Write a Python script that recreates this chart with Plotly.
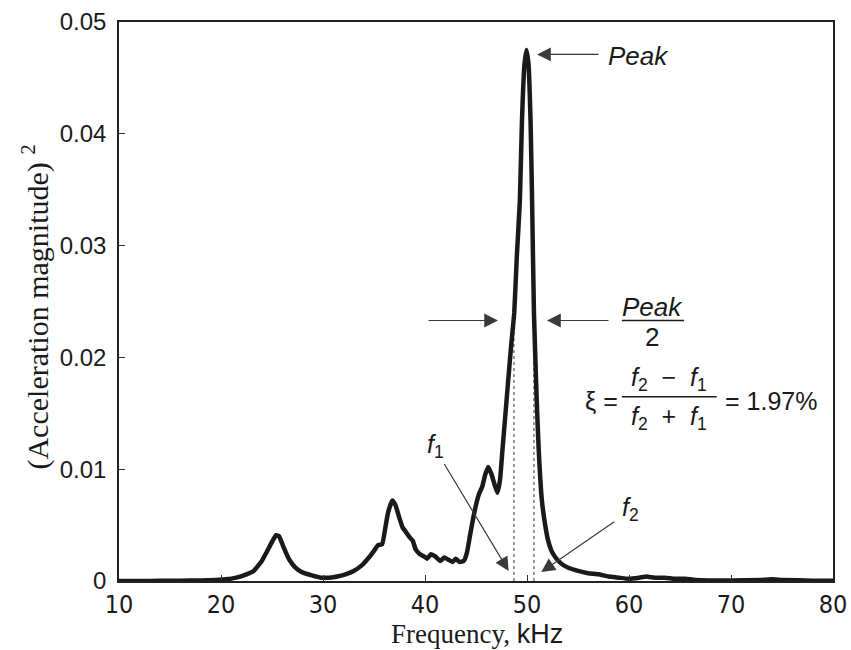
import plotly.graph_objects as go

# ---------------- data ----------------
freq_khz = [10.0, 12.0, 14.0, 16.0, 18.0, 19.5, 20.5, 21.5, 22.5, 23.2, 24.0, 24.6, 25.0, 25.4,
            25.7, 26.1, 26.7, 27.3, 27.9, 28.9, 29.8, 30.6, 31.4, 32.2, 33.0, 33.8, 34.5, 35.0,
            35.4, 35.8, 36.1, 36.4, 36.8, 37.1, 37.5, 37.8, 38.2, 38.5, 38.8, 39.1, 39.5, 39.9,
            40.2, 40.6, 41.0, 41.5, 41.9, 42.3, 42.7, 43.0, 43.4, 43.8, 44.1, 44.4, 44.7, 45.0,
            45.3, 45.6, 45.9, 46.2, 46.5, 46.8, 47.1, 47.35, 47.6, 48.0, 48.4, 48.75, 49.0, 49.3,
            49.5, 49.75, 49.95, 50.15, 50.35, 50.5, 50.68, 50.95, 51.15, 51.45, 51.75, 52.05,
            52.4, 52.8, 53.3, 54.0, 55.0, 56.0, 57.0, 58.0, 59.0, 60.0, 61.0, 61.7, 62.5, 63.5,
            64.5, 65.5, 66.5, 70.0, 73.0, 74.0, 75.0, 78.0, 80.0]
accel_sq = [0.0, 0.0, 0.00002, 0.00003, 0.00005, 0.0001, 0.00015, 0.0003, 0.0006, 0.0009,
            0.0018, 0.0028, 0.0035, 0.0041, 0.0040, 0.0031, 0.0019, 0.0012, 0.0008, 0.0005,
            0.0003, 0.0003, 0.0004, 0.0006, 0.0009, 0.0014, 0.0021, 0.0027, 0.0032, 0.0033,
            0.0047, 0.0062, 0.0072, 0.0068, 0.0056, 0.0048, 0.0043, 0.0039, 0.0036, 0.0028,
            0.0024, 0.0022, 0.0020, 0.0024, 0.0022, 0.0018, 0.0021, 0.0019, 0.0017, 0.0020,
            0.0017, 0.0018, 0.0025, 0.0040, 0.0055, 0.0068, 0.0078, 0.0084, 0.0095, 0.0102,
            0.0096, 0.0087, 0.0079, 0.0090, 0.0118, 0.0162, 0.0206, 0.0240, 0.0290, 0.0340,
            0.0410, 0.0462, 0.0475, 0.0462, 0.0411, 0.0340, 0.0240, 0.0162, 0.0117, 0.0073,
            0.0052, 0.0037, 0.0027, 0.0021, 0.0016, 0.0012, 0.0009, 0.0007, 0.0006, 0.0004,
            0.0003, 0.0002, 0.0003, 0.0004, 0.0003, 0.0003, 0.0002, 0.0002, 0.0001, 0.00005,
            0.0001, 0.00015, 0.0001, 0.00003, 0.00002]

f1_khz = 48.72
f2_khz = 50.68
peak_value = 0.0475

xtick_vals = [10, 20, 30, 40, 50, 60, 70, 80]
xtick_text = ["10", "20", "30", "40", "50", "60", "70", "80"]
ytick_vals = [0, 0.01, 0.02, 0.03, 0.04, 0.05]
ytick_text = ["0", "0.01", "0.02", "0.03", "0.04", "0.05"]

x_title = 'Frequency, <span style="font-family:Liberation Sans Narrow, Arial Narrow, sans-serif">kHz</span>'
y_title = "(Acceleration magnitude) <sup>2</sup>"

# ---------------- figure ----------------
ink = "#1a1a1a"
arrow_col = "#3a3a3a"
sans = "Liberation Sans, Arial, sans-serif"
narrow = "Liberation Sans Narrow, Arial Narrow, DejaVu Sans Condensed, sans-serif"
serif = "Liberation Serif, Times New Roman, serif"

fig = go.Figure()

# dotted half-power lines
for fx in (f1_khz, f2_khz):
    fig.add_trace(go.Scatter(x=[fx, fx], y=[0, peak_value / 2], mode="lines",
                             line=dict(color="#333333", width=1, dash="dot"),
                             hoverinfo="skip", showlegend=False))

fig.add_trace(go.Scatter(x=freq_khz, y=accel_sq, mode="lines",
                         line=dict(color=ink, width=4.5, shape="spline", smoothing=0.4),
                         showlegend=False))

def arrow(x, y, ax, ay):
    fig.add_annotation(x=x, y=y, ax=ax, ay=ay, xref="x", yref="y", axref="x", ayref="y",
                       text="", showarrow=True, arrowhead=2, arrowsize=2.3, arrowwidth=1.2,
                       arrowcolor=arrow_col, standoff=0, startstandoff=0)

def label(x, y, text, size=26, family=sans, xanchor="center"):
    fig.add_annotation(x=x, y=y, xref="x", yref="y", text=text, showarrow=False,
                       font=dict(family=family, size=size, color=ink), xanchor=xanchor,
                       yanchor="middle")

# Peak
arrow(50.98, 0.0471, 57.16, 0.0471)
label(60.9, 0.0470, "<i>Peak</i>")

# half-peak arrows
arrow(47.16, 0.0233, 40.2, 0.0233)
arrow(51.96, 0.0233, 58.14, 0.0233)
label(62.3, 0.0245, "<i>Peak</i>")
label(62.3, 0.0218, "2")
fig.add_shape(type="line", xref="x", yref="y", x0=59.3, x1=65.4, y0=0.0233, y1=0.0233,
              line=dict(color=ink, width=1.5))

# damping formula
label(57.3, 0.0161, "ξ =", size=25)
label(63.9, 0.0181, "<i>f</i><sub>2</sub>  −  <i>f</i><sub>1</sub>", size=25)
label(63.9, 0.0146, "<i>f</i><sub>2</sub>  +  <i>f</i><sub>1</sub>", size=25)
fig.add_shape(type="line", xref="x", yref="y", x0=59.3, x1=68.6, y0=0.01647, y1=0.01647,
              line=dict(color=ink, width=1.5))
label(73.9, 0.0161, "= 1.97%", size=25)

# f1 / f2 arrows
label(41.0, 0.0121, "<i>f</i><sub>1</sub>", size=25)
arrow(48.2, 0.0009, 41.8, 0.0106)
label(60.1, 0.0064, "<i>f</i><sub>2</sub>", size=25)
arrow(51.4, 0.0008, 58.7, 0.0054)

# axis titles
fig.add_annotation(x=0.501, y=-0.095, xref="paper", yref="paper", text=x_title,
                   showarrow=False, xanchor="center", yanchor="middle",
                   font=dict(family=serif, size=27, color=ink))
fig.add_annotation(x=-0.117, y=0.49, xref="paper", yref="paper", text=y_title,
                   showarrow=False, xanchor="center", yanchor="middle", textangle=-90,
                   font=dict(family=serif, size=30, color=ink))

fig.update_layout(
    width=851, height=650,
    margin=dict(l=119, r=18, t=22, b=69, autoexpand=False),
    paper_bgcolor="white", plot_bgcolor="white",
    showlegend=False,
)
fig.update_xaxes(range=[10, 80], tickvals=xtick_vals, ticktext=xtick_text,
                 ticks="inside", ticklen=6, tickwidth=1, tickcolor="#333",
                 showline=True, linecolor="#222", linewidth=1.5, mirror=True,
                 showgrid=False, zeroline=False, automargin=False, ticklabelstandoff=0,
                 tickfont=dict(family=narrow, size=25, color=ink))
fig.update_yaxes(range=[0, 0.05], tickvals=ytick_vals, ticktext=ytick_text,
                 ticks="inside", ticklen=6, tickwidth=1, tickcolor="#333",
                 showline=True, linecolor="#222", linewidth=1.5, mirror=True,
                 showgrid=False, zeroline=False, ticklabelstandoff=6, automargin=False,
                 tickfont=dict(family=sans, size=24, color=ink))

fig.write_html("out.html")
